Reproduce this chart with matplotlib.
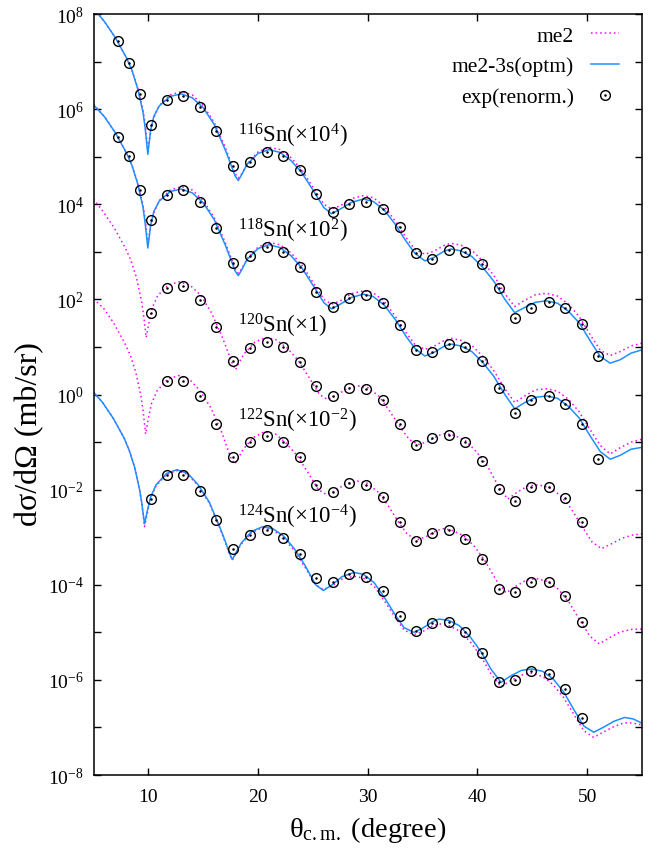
import numpy as np
import matplotlib
matplotlib.use('Agg')
import matplotlib.pyplot as plt
from matplotlib.lines import Line2D
from matplotlib.legend_handler import HandlerTuple
from matplotlib.ticker import FixedLocator, FuncFormatter, NullLocator

plt.rcParams['font.family'] = ['Liberation Serif', 'DejaVu Serif']
plt.rcParams['mathtext.fontset'] = 'custom'
plt.rcParams['mathtext.rm'] = 'Liberation Serif'
plt.rcParams['mathtext.it'] = 'Liberation Serif:italic'
plt.rcParams['mathtext.bf'] = 'Liberation Serif:bold'
plt.rcParams['axes.unicode_minus'] = False

# all cross sections stored as log10(dsigma/dOmega [mb/sr]), before the offset factor
isotopes = ['116', '118', '120', '122', '124']
offset_exp = [4, 2, 0, -2, -4]

# ---- calculations ----
theta_116 = [5, 6, 7, 8, 8.5, 9, 9.5, 9.7, 9.95, 10.2, 10.5, 11, 12, 13, 14, 15, 16, 17, 17.5, 17.9,
             18.2, 18.5, 19, 20, 21, 22, 23, 24, 25, 26, 26.7, 27.5, 28.5, 29.6, 30.5, 31.5, 32.5,
             33.5, 34.3, 35.2, 36, 37, 37.6, 38.5, 39.5, 40.5, 41.5, 42.5, 43.4, 44.3, 45.3, 46.3,
             47.3, 48.3, 49.3, 50.3, 51.2, 52.1, 53, 54, 55]
me2_116 = [4.12, 3.84, 3.50, 3.08, 2.83, 2.47, 2.00, 1.70, 1.15, 1.50, 1.82, 2.08, 2.30, 2.37, 2.30,
           2.08, 1.72, 1.20, 0.90, 0.65, 0.55, 0.64, 0.85, 1.10, 1.20, 1.15, 0.98, 0.72, 0.36, 0.00,
           -0.10, -0.03, 0.12, 0.18, 0.14, -0.04, -0.35, -0.70, -0.95, -1.05, -0.99, -0.86, -0.82,
           -0.86, -0.97, -1.20, -1.50, -1.88, -2.15, -2.02, -1.90, -1.87, -1.93, -2.10, -2.37, -2.75,
           -3.07, -3.18, -3.10, -2.98, -2.92]
opt_116 = [4.12, 3.84, 3.50, 3.08, 2.82, 2.45, 1.95, 1.62, 1.05, 1.55, 1.85, 2.07, 2.27, 2.32, 2.24,
           2.03, 1.68, 1.15, 0.85, 0.60, 0.50, 0.62, 0.84, 1.07, 1.15, 1.09, 0.92, 0.66, 0.30, -0.07,
           -0.20, -0.10, 0.04, 0.11, 0.06, -0.12, -0.42, -0.78, -1.03, -1.19, -1.12, -0.98, -0.94,
           -0.98, -1.10, -1.33, -1.62, -2.00, -2.28, -2.17, -2.06, -2.03, -2.08, -2.25, -2.50, -2.88,
           -3.20, -3.34, -3.27, -3.13, -3.06]

theta_118 = theta_116
me2_118 = [4.10, 3.84, 3.50, 3.08, 2.83, 2.47, 2.00, 1.70, 1.18, 1.50, 1.82, 2.08, 2.30, 2.37, 2.30,
           2.08, 1.72, 1.20, 0.90, 0.65, 0.55, 0.64, 0.85, 1.10, 1.20, 1.15, 0.98, 0.72, 0.36, 0.00,
           -0.10, -0.03, 0.12, 0.18, 0.14, -0.04, -0.35, -0.70, -0.95, -1.05, -0.99, -0.86, -0.82,
           -0.86, -0.97, -1.20, -1.50, -1.88, -2.17, -2.03, -1.90, -1.88, -1.93, -2.10, -2.37, -2.75,
           -3.07, -3.25, -3.12, -3.00, -2.94]
opt_118 = [4.09, 3.84, 3.50, 3.08, 2.82, 2.45, 1.95, 1.62, 1.08, 1.55, 1.85, 2.07, 2.27, 2.32, 2.24,
           2.03, 1.68, 1.15, 0.85, 0.60, 0.50, 0.62, 0.84, 1.07, 1.15, 1.09, 0.92, 0.66, 0.30, -0.07,
           -0.20, -0.10, 0.04, 0.11, 0.06, -0.12, -0.42, -0.78, -1.03, -1.19, -1.12, -0.98, -0.94,
           -0.98, -1.10, -1.33, -1.62, -2.00, -2.30, -2.17, -2.06, -2.03, -2.08, -2.25, -2.50, -2.88,
           -3.20, -3.36, -3.28, -3.15, -3.11]

theta_120 = [5, 5.9, 6.9, 7.9, 8.4, 8.9, 9.35, 9.55, 9.8, 10.05, 10.35, 10.85, 11.8, 12.8, 13.8, 14.8,
             15.75, 16.75, 17.25, 17.65, 17.95, 18.2, 18.7, 19.7, 20.7, 21.65, 22.65, 23.65, 24.65,
             25.6, 26.3, 27.1, 28.05, 29.15, 30.05, 31.05, 32.0, 33.0, 33.8, 34.65, 35.45, 36.45,
             37.05, 37.9, 38.9, 39.9, 40.9, 41.85, 42.75, 43.65, 44.6, 45.6, 46.6, 47.6, 48.55,
             49.55, 50.45, 51.3, 52.2, 53.2, 54.2, 55.0]
me2_120 = [4.11, 3.84, 3.50, 3.08, 2.83, 2.47, 2.00, 1.70, 1.20, 1.50, 1.82, 2.08, 2.30, 2.37, 2.30,
           2.08, 1.72, 1.20, 0.90, 0.65, 0.52, 0.64, 0.85, 1.10, 1.20, 1.15, 0.98, 0.72, 0.36, 0.00,
           -0.10, -0.03, 0.12, 0.18, 0.14, -0.04, -0.35, -0.70, -0.95, -1.05, -0.99, -0.86, -0.82,
           -0.86, -0.97, -1.20, -1.50, -1.90, -2.20, -2.05, -1.92, -1.90, -1.96, -2.13, -2.40, -2.78,
           -3.10, -3.24, -3.14, -3.02, -2.95, -2.93]

theta_122 = [5, 5.9, 6.85, 7.85, 8.35, 8.85, 9.3, 9.5, 9.75, 10.0, 10.3, 10.8, 11.75, 12.75, 13.75,
             14.7, 15.7, 16.7, 17.15, 17.55, 17.85, 18.15, 18.65, 19.6, 20.6, 21.6, 22.55, 23.55,
             24.55, 25.5, 26.2, 27.0, 27.95, 29.05, 29.9, 30.9, 31.9, 32.85, 33.65, 34.55, 35.3,
             36.3, 36.9, 37.75, 38.75, 39.75, 40.7, 41.7, 42.6, 43.45, 44.45, 45.4, 46.4, 47.4,
             48.35, 49.35, 50.25, 51.1, 52.0, 52.95, 53.95, 55.0]
me2_122 = [4.01, 3.82, 3.50, 3.08, 2.83, 2.47, 2.00, 1.70, 1.17, 1.50, 1.82, 2.08, 2.32, 2.40, 2.32,
           2.08, 1.72, 1.20, 0.90, 0.65, 0.54, 0.64, 0.85, 1.10, 1.22, 1.17, 0.98, 0.72, 0.36, 0.00,
           -0.10, -0.03, 0.12, 0.18, 0.14, -0.04, -0.35, -0.70, -0.95, -1.05, -0.99, -0.86, -0.82,
           -0.86, -0.97, -1.20, -1.50, -1.90, -2.17, -2.04, -1.90, -1.87, -1.93, -2.10, -2.37, -2.75,
           -3.08, -3.24, -3.12, -3.00, -2.94, -2.93]

theta_124 = [5.0, 5.8, 6.8, 7.8, 8.25, 8.75, 9.2, 9.4, 9.65, 9.9, 10.2, 10.7, 11.65, 12.6, 13.6, 14.55,
             15.55, 16.5, 17.0, 17.4, 17.65, 17.95, 18.45, 19.4, 20.4, 21.35, 22.35, 23.3, 24.3,
             25.25, 25.95, 26.7, 27.65, 28.75, 29.6, 30.6, 31.55, 32.55, 33.3, 34.2, 34.95, 35.95,
             36.5, 37.4, 38.35, 39.35, 40.3, 41.25, 42.15, 43.0, 44.0, 44.95, 45.95, 46.9, 47.85,
             48.85, 49.7, 50.6, 51.45, 52.45, 53.4, 54.2, 55.0]
me2_124 = [4.05, 3.84, 3.50, 3.08, 2.83, 2.47, 2.00, 1.70, 1.22, 1.50, 1.82, 2.08, 2.32, 2.40, 2.32,
           2.08, 1.72, 1.20, 0.90, 0.65, 0.52, 0.64, 0.85, 1.10, 1.20, 1.15, 0.98, 0.72, 0.36, 0.00,
           -0.10, -0.03, 0.12, 0.18, 0.14, -0.04, -0.35, -0.70, -0.95, -1.05, -0.99, -0.86, -0.82,
           -0.86, -0.97, -1.20, -1.50, -1.88, -2.14, -2.02, -1.90, -1.86, -1.93, -2.10, -2.37, -2.75,
           -3.07, -3.21, -3.10, -2.98, -2.90, -2.91, -2.95]
opt_124 = [4.05, 3.84, 3.50, 3.08, 2.83, 2.47, 2.00, 1.72, 1.28, 1.55, 1.84, 2.10, 2.34, 2.42, 2.34,
           2.10, 1.74, 1.22, 0.92, 0.66, 0.53, 0.66, 0.87, 1.12, 1.22, 1.18, 1.02, 0.76, 0.40, 0.00,
           -0.12, -0.01, 0.17, 0.26, 0.22, 0.04, -0.28, -0.65, -0.90, -1.00, -0.92, -0.77, -0.72,
           -0.75, -0.86, -1.10, -1.40, -1.78, -2.05, -1.92, -1.80, -1.77, -1.82, -1.98, -2.25, -2.65,
           -2.97, -3.10, -3.00, -2.87, -2.79, -2.82, -2.91]

# ---- experiment (renormalised) ----
exp_theta = [7.2, 8.2, 9.2, 10.2, 11.7, 13.2, 14.7, 16.2, 17.7, 19.3, 20.8, 22.3, 23.8, 25.3, 26.8,
             28.3, 29.8, 31.4, 32.9, 34.4, 35.9, 37.4, 38.9, 40.4, 42.0, 43.4, 44.9, 46.5, 48.0,
             49.5, 51.0]
exp_116 = [3.43, 2.98, 2.32, 1.67, 2.19, 2.28, 2.05, 1.54, 0.80, 0.88, 1.09, 1.01, 0.72, 0.22, -0.16,
           0.01, 0.05, -0.10, -0.47, -1.03, -1.15, -0.96, -1.00, -1.26, -1.76, -2.39, -2.19, -2.05,
           -2.18, -2.52, -3.19]
exp_118 = [3.42, 3.02, 2.31, 1.68, 2.19, 2.29, 2.05, 1.50, 0.76, 0.91, 1.10, 1.00, 0.69, 0.16, -0.15,
           0.03, 0.09, -0.08, -0.54, -1.07, -1.10, -0.94, -1.01, -1.30, -1.86, -2.39, -2.12, -2.03,
           -2.20, -2.62, -3.36]
exp_120 = [1.71, 2.25, 2.28, 1.99, 1.43, 0.71, 0.97, 1.11, 0.99, 0.68, 0.17, -0.04, 0.14, 0.12, -0.11,
           -0.61, -1.06, -0.92, -0.85, -0.99, -1.39, -1.99, -2.23, -1.95, -1.95, -2.18, -2.68]
exp_122 = [2.28, 2.28, 1.97, 1.38, 0.68, 1.00, 1.13, 1.01, 0.68, 0.10, -0.04, 0.14, 0.10, -0.16, -0.68,
           -1.07, -0.92, -0.85, -1.04, -1.46, -2.09, -2.16, -1.94, -1.95, -2.23, -2.79]
exp_124 = [1.80, 2.31, 2.31, 1.98, 1.37, 0.75, 1.05, 1.16, 0.98, 0.65, 0.14, 0.06, 0.23, 0.16, -0.14,
           -0.66, -0.98, -0.81, -0.78, -0.99, -1.44, -2.05, -2.00, -1.81, -1.88, -2.19, -2.81]
exp_start = [0, 0, 3, 4, 3]   # first measured angle index for each isotope

theory = {
    '116': (theta_116, me2_116, opt_116),
    '118': (theta_118, me2_118, opt_118),
    '120': (theta_120, me2_120, None),
    '122': (theta_122, me2_122, None),
    '124': (theta_124, me2_124, opt_124),
}
exps = [exp_116, exp_118, exp_120, exp_122, exp_124]

MAG = '#ff00ff'
BLUE = '#1e8fff'

fig = plt.figure(figsize=(6.67, 8.54), dpi=100)
ax = fig.add_axes([0.1402, 0.0913, 0.8223, 0.8911])

for iso, k, ex, i0 in zip(isotopes, offset_exp, exps, exp_start):
    th, me2, opt = theory[iso]
    ax.plot(th, 10 ** (np.array(me2) + k), color=MAG, lw=1.1, ls=(0, (1, 2)))
    if opt is not None:
        ax.plot(th, 10 ** (np.array(opt) + k), color=BLUE, lw=1.1)
    xe = exp_theta[i0:i0 + len(ex)]
    ye = 10 ** (np.array(ex) + k)
    ax.plot(xe, ye, 'o', mfc='none', mec='black', ms=7, mew=1.0)
    ax.plot(xe, ye, '.', color='black', ms=1.6)

ax.set_yscale('log')
ax.set_xlim(5, 55)
ax.set_ylim(1e-8, 1e8)

ax.xaxis.set_major_locator(FixedLocator([10, 20, 30, 40, 50]))
ax.xaxis.set_minor_locator(NullLocator())
ax.yaxis.set_major_locator(FixedLocator([10.0 ** e for e in range(-8, 9)]))
ax.yaxis.set_minor_locator(NullLocator())


def ylab(v, pos):
    e = int(round(np.log10(v)))
    return r'10$^{%d}$' % e if e % 2 == 0 else ''


ax.yaxis.set_major_formatter(FuncFormatter(ylab))
ax.tick_params(which='both', direction='in', top=True, right=True, length=5, width=1.0,
               labelsize=14)
ax.tick_params(axis='x', pad=9)
ax.tick_params(axis='y', pad=7)
for s in ax.spines.values():
    s.set_linewidth(1.1)

ax.set_xlabel(r'θ$_{\rm c.m.}$ (degree)', fontsize=20.5)
ax.set_ylabel('dσ/dΩ (mb/sr)', fontsize=23)
ax.xaxis.set_label_coords(0.5, -0.051)
ax.yaxis.set_label_coords(-0.089, 0.45)

# isotope labels
lab_y = [0.833, 0.708, 0.583, 0.4586, 0.332]
lab_txt = [r'$^{116}$Sn($\times$10$^{4}$)', r'$^{118}$Sn($\times$10$^{2}$)',
           r'$^{120}$Sn($\times$1)', r'$^{122}$Sn($\times$10$^{-2}$)',
           r'$^{124}$Sn($\times$10$^{-4}$)']
for t, yy in zip(lab_txt, lab_y):
    ax.text(0.2634, yy, t, transform=ax.transAxes, fontsize=16.5, va='baseline', ha='left')

# legend, gnuplot style: text then sample
h_me2 = Line2D([], [], color=MAG, lw=1.1, ls=(0, (1, 2)))
h_opt = Line2D([], [], color=BLUE, lw=1.1)
h_c = Line2D([], [], ls='none', marker='o', mfc='none', mec='black', ms=7, mew=1.0)
h_d = Line2D([], [], ls='none', marker='.', color='black', ms=1.6)
ax.legend([h_me2, h_opt, (h_c, h_d)], ['me2', 'me2-3s(optm)', 'exp(renorm.)'],
          handler_map={tuple: HandlerTuple(ndivide=1, pad=0)},
          loc='upper right', bbox_to_anchor=(0.958, 0.985), markerfirst=False, frameon=False,
          fontsize=15.5, handlelength=1.3, handletextpad=0.8, labelspacing=0.5, borderpad=0,
          borderaxespad=0)

fig.savefig('out.png', dpi=100)
